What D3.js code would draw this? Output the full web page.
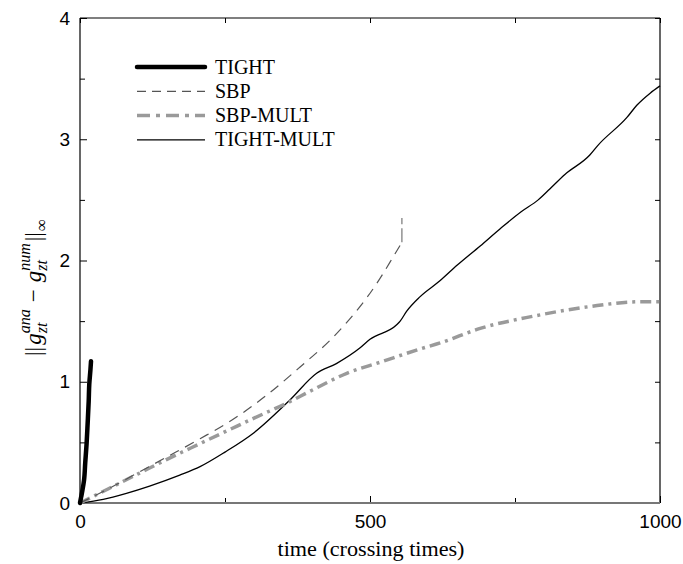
<!DOCTYPE html>
<html><head><meta charset="utf-8">
<script src="https://cdn.jsdelivr.net/npm/d3@7"></script>
<style>body{margin:0;background:#fff}</style>
</head><body>
<svg id="c" width="683" height="564"></svg>
<script>
// ---- data ----
const tightT = [0, 2, 4, 7, 9, 11.5, 13, 15, 16, 18, 19];
const tightV = [0, 0.05, 0.1, 0.19, 0.33, 0.5, 0.64, 0.84, 0.98, 1.1, 1.17];

const sbpT = [0, 50, 100, 150, 207, 264, 322, 379, 437, 460, 494, 517, 540, 555];
const sbpV = [0, 0.12, 0.25, 0.38, 0.53, 0.69, 0.89, 1.12, 1.37, 1.49, 1.69, 1.85, 2.03, 2.15];
const sbpJumpV = 2.35; // final vertical jump at t = 555

const sbpMultT = [0, 50, 100, 150, 207, 260, 300, 355, 400, 460, 517, 586, 621, 690, 781, 879, 966, 1000];
const sbpMultV = [0, 0.12, 0.24, 0.36, 0.49, 0.61, 0.7, 0.82, 0.93, 1.07, 1.16, 1.27, 1.32, 1.44, 1.54, 1.62, 1.66, 1.66];

const tmT = [0, 40, 80, 120, 172, 207, 250, 300, 362, 408, 442, 483, 500, 546, 552, 563, 586, 620, 650, 690, 724, 760, 790, 810, 836, 879, 893, 943, 960, 983, 1000];
const tmV = [0, 0.03, 0.08, 0.14, 0.23, 0.3, 0.42, 0.58, 0.85, 1.07, 1.15, 1.28, 1.35, 1.47, 1.5, 1.58, 1.7, 1.83, 1.96, 2.12, 2.26, 2.4, 2.5, 2.59, 2.71, 2.87, 2.95, 3.18, 3.28, 3.38, 3.44];

const xTicks = [0, 500, 1000];
const xMinor = [250, 750];
const yTicks = [0, 1, 2, 3, 4];
const yMinor = [0.5, 1.5, 2.5, 3.5];
const legendNames = ["TIGHT", "SBP", "SBP-MULT", "TIGHT-MULT"];

// ---- chart ----
const svg = d3.select("#c");
const L = 80, R = 660, T = 18, B = 503;
const x = d3.scaleLinear().domain([0, 1000]).range([L, R]);
const y = d3.scaleLinear().domain([0, 4]).range([B, T]);

const styles = [
  {stroke: "#000", width: 4.5, dash: null},
  {stroke: "#555", width: 1.2, dash: "10,7"},
  {stroke: "#9a9a9a", width: 3.5, dash: "11,5,3,5"},
  {stroke: "#000", width: 1.3, dash: null}
];

const tickFont = "'Liberation Sans', Arial, sans-serif";
const gx = svg.append("g").attr("transform", `translate(0,${B})`)
  .call(d3.axisBottom(x).tickValues(xTicks).tickSize(-7).tickPadding(12).tickFormat(d3.format("d")));
const gxm = svg.append("g").attr("transform", `translate(0,${B})`)
  .call(d3.axisBottom(x).tickValues(xMinor).tickSize(-5).tickFormat(""));
const gxt = svg.append("g").attr("transform", `translate(0,${T})`)
  .call(d3.axisTop(x).tickValues(xTicks.concat(xMinor)).tickSize(-5).tickFormat(""));
const gy = svg.append("g").attr("transform", `translate(${L},0)`)
  .call(d3.axisLeft(y).tickValues(yTicks).tickSize(-7).tickPadding(10).tickFormat(d3.format("d")));
const gym = svg.append("g").attr("transform", `translate(${L},0)`)
  .call(d3.axisLeft(y).tickValues(yMinor).tickSize(-5).tickFormat(""));
const gyr = svg.append("g").attr("transform", `translate(${R},0)`)
  .call(d3.axisRight(y).tickValues(yTicks.concat(yMinor)).tickSize(-5).tickFormat(""));

[gx, gxm, gxt, gy, gym, gyr].forEach(g => {
  g.select(".domain").remove();
  g.selectAll("line").attr("stroke", "#000").attr("stroke-width", 1);
  g.selectAll("text").attr("font-family", tickFont).attr("font-size", 19).attr("fill", "#000");
});

// box
svg.append("line").attr("x1", L).attr("x2", R).attr("y1", T).attr("y2", T).attr("stroke", "#000").attr("stroke-width", 1.2);
svg.append("line").attr("x1", L).attr("x2", L).attr("y1", T).attr("y2", B).attr("stroke", "#000").attr("stroke-width", 1.2);
svg.append("line").attr("x1", R).attr("x2", R).attr("y1", T).attr("y2", B).attr("stroke", "#000").attr("stroke-width", 1.2);
svg.append("line").attr("x1", L).attr("x2", R).attr("y1", B).attr("y2", B).attr("stroke", "#777").attr("stroke-width", 2);

const lineX = d3.line().x(d => x(d[0])).y(d => y(d[1])).curve(d3.curveMonotoneX);
const lineY = d3.line().x(d => x(d[0])).y(d => y(d[1])).curve(d3.curveMonotoneY);
const lineLin = d3.line().x(d => x(d[0])).y(d => y(d[1]));

function draw(data, gen, st, cap) {
  svg.append("path").datum(data).attr("d", gen)
    .attr("fill", "none").attr("stroke", st.stroke).attr("stroke-width", st.width)
    .attr("stroke-linecap", cap || "butt").attr("stroke-linejoin", "round")
    .attr("stroke-dasharray", st.dash);
}
draw(d3.zip(tmT, tmV), lineX, styles[3]);
draw(d3.zip(sbpMultT, sbpMultV), lineX, styles[2]);
draw(d3.zip(sbpT, sbpV), lineX, styles[1]);
draw([[sbpT[sbpT.length - 1], sbpV[sbpV.length - 1]], [sbpT[sbpT.length - 1], sbpJumpV]], lineLin,
  {stroke: "#777", width: 1.2, dash: "14,4"});
draw(d3.zip(tightT, tightV), lineY, styles[0], "round");

// legend
const serif = "'Liberation Serif', 'Times New Roman', serif";
const leg = svg.append("g");
legendNames.forEach((n, i) => {
  const yy = 67 + i * 24.3;
  const st = styles[i];
  leg.append("line").attr("x1", 137).attr("x2", 205).attr("y1", yy).attr("y2", yy)
    .attr("stroke", st.stroke).attr("stroke-width", st.width)
    .attr("stroke-linecap", i === 0 ? "round" : "butt")
    .attr("stroke-dasharray", i === 1 ? "9,6" : (i === 2 ? "13,6,4,6" : null));
  leg.append("text").attr("x", 215).attr("y", yy + 6.5).text(n)
    .attr("font-family", serif).attr("font-size", 20).attr("fill", "#000");
});

// x label
svg.append("text").attr("x", 371).attr("y", 556).attr("text-anchor", "middle")
  .attr("font-family", serif).attr("font-size", 21).text("time (crossing times)")
  .attr("textLength", 187).attr("lengthAdjust", "spacingAndGlyphs");

// y label: ||g_zt^ana − g_zt^num||_∞
const yl = svg.append("g").attr("transform", "translate(41,356) rotate(-90)");
let u = 0;
function piece(txt, opts) {
  const t = yl.append("text").attr("x", u).attr("y", opts.dy || 0)
    .attr("font-family", serif).attr("font-size", opts.size || 23)
    .attr("font-style", opts.italic ? "italic" : "normal").text(txt);
  return t.node().getComputedTextLength();
}
u += piece("||", {}) + 2;
u += piece("g", {italic: true});
let w1 = piece("ana", {italic: true, size: 16, dy: -11});
let w2 = piece("zt", {italic: true, size: 16, dy: 6});
u += Math.max(w1, w2) + 7;
u += piece("\u2212", {}) + 7;
u += piece("g", {italic: true});
w1 = piece("num", {italic: true, size: 16, dy: -11});
w2 = piece("zt", {italic: true, size: 16, dy: 6});
u += Math.max(w1, w2) + 2;
u += piece("||", {}) + 1;
piece("\u221e", {size: 17, dy: 6});
</script>
</body></html>
